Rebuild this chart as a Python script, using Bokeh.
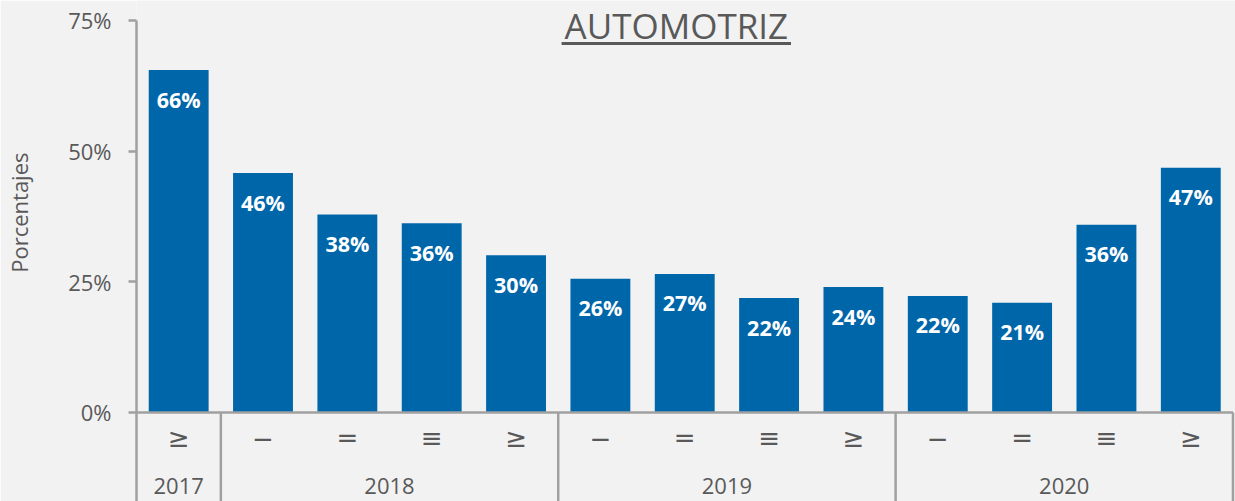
import math
from bokeh.plotting import figure
from bokeh.models import Range1d, FixedTicker, PrintfTickFormatter, Title, LinearAxis, ColumnDataSource
from bokeh.core.properties import value
from bokeh.embed import file_html
from bokeh.resources import INLINE

# ---- data ----
years = ["2017", "2018", "2019", "2020"]
year_counts = [1, 4, 4, 4]
quarters = ["≥", "−", "=", "≡", "≥", "−", "=", "≡", "≥", "−", "=", "≡", "≥"]
values = [65.5, 45.8, 37.9, 36.2, 30.1, 25.6, 26.5, 21.9, 24.0, 22.3, 21.0, 35.9, 46.8]
bar_labels = ["66%", "46%", "38%", "36%", "30%", "26%", "27%", "22%", "24%", "22%", "21%", "36%", "47%"]
y_ticks = [0, 25, 50, 75]
title_text = "AUTOMOTRIZ"
ylabel_text = "Porcentajes"

BG = "#F2F2F2"
BAR = "#0066AA"
TXT = "#595959"
AX = "#A0A0A0"
FONT = "Open Sans"

n = len(values)
xs = list(range(n))
Y0, Y1 = -17.03, 78.82

p = figure(width=1235, height=501, output_backend="svg", toolbar_location=None,
           x_range=Range1d(-0.5, n - 0.5 + 0.03), y_range=Range1d(Y0, Y1),
           min_border_left=136, min_border_right=0, min_border_top=0, min_border_bottom=0,
           background_fill_color=BG, border_fill_color=BG, outline_line_color=None)
p.xaxis.visible = False
p.xgrid.visible = False
p.ygrid.visible = False

ya = p.yaxis[0]
ya.ticker = FixedTicker(ticks=y_ticks)
ya.formatter = PrintfTickFormatter(format="%d%%")
ya.bounds = (Y0, 75)
ya.axis_line_color = AX
ya.axis_line_width = 2.5
ya.major_tick_line_color = AX
ya.major_tick_line_width = 2.5
ya.major_tick_out = 8
ya.major_tick_in = 0
ya.minor_tick_line_color = None
ya.major_label_text_font = FONT
ya.major_label_text_font_size = "22px"
ya.major_label_text_color = TXT
ya.major_label_standoff = 17

# empty spacer axis to push the caption outward
spacer = LinearAxis(ticker=FixedTicker(ticks=[]), axis_line_color=None,
                    major_tick_line_color=None, minor_tick_line_color=None,
                    major_tick_out=0, major_tick_in=0, minor_tick_out=0, minor_tick_in=0,
                    major_label_standoff=0, axis_label=" ",
                    axis_label_text_font_size="4px", axis_label_standoff=24)
p.add_layout(spacer, "left")

# y-axis caption as a side title, placed over the 0-75 span
p.add_layout(Title(text=ylabel_text, align="right", offset=152, text_font=FONT,
                   text_font_size="22px", text_color=TXT, text_font_style="normal",
                   standoff=0), "left")

src = ColumnDataSource(dict(x=xs, top=values, lab=bar_labels, q=quarters))
p.vbar(x="x", top="top", bottom=0, width=0.71, source=src, fill_color=BAR, line_color=None)
p.text(x="x", y="top", text="lab", source=src, text_align="center", text_baseline="middle",
       y_offset=29, text_color="white", text_font=value(FONT), text_font_style="bold",
       text_font_size="21.5px")

# baseline at 0
p.segment(x0=[-0.5], y0=[0], x1=[n - 0.5], y1=[0], line_color=AX, line_width=2.5)

# group separators and labels
edges = []
centers = []
c = 0
for cnt in year_counts:
    centers.append(c + (cnt - 1) / 2)
    c += cnt
    edges.append(c - 0.5)
p.segment(x0=edges, y0=[0] * len(edges), x1=edges, y1=[Y0] * len(edges),
          line_color=AX, line_width=2.5)

p.text(x="x", y=-4.9, text="q", source=src, text_align="center", text_baseline="middle",
       text_color=TXT, text_font=value("DejaVu Sans"), text_font_size="26px")
p.text(x=centers, y=[-14.0] * len(centers), text=years, text_align="center",
       text_baseline="middle", text_color=TXT, text_font=value(FONT), text_font_size="22px")

# title with underline
tx = 5.9
p.text(x=[tx], y=[74.0], text=[title_text], text_align="center", text_baseline="middle",
       text_color=TXT, text_font=value(FONT), text_font_size="35px")
half_w = 1.36
p.segment(x0=[tx - half_w], y0=[70.6], x1=[tx + half_w], y1=[70.6], line_color=TXT, line_width=3)

open("out.html", "w").write(file_html(p, INLINE))
